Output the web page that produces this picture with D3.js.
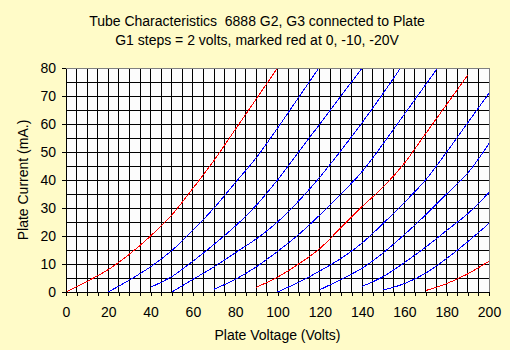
<!DOCTYPE html>
<html>
<head>
<meta charset="utf-8">
<script src="https://cdn.jsdelivr.net/npm/d3@7"></script>
<style>
  html, body { margin: 0; padding: 0; background: #FFFBC8; }
  svg { display: block; font-family: "Liberation Sans", Arial, sans-serif; }
</style>
</head>
<body>
<svg id="chart" width="510" height="350"></svg>
<script>
// 6888 plate characteristics, one curve per G1 bias (G2, G3 tied to plate)
const gridVolts  = [0, -2, -4, -6, -8, -10, -12, -14, -16, -18, -20];
const startVolts = [0, 20, 40, 50, 70, 90, 100, 120, 140, 150, 170]; // first plate voltage of each curve
const stepVolts  = 10;                                                // plate voltage step between readings

// Plate current (mA) read every 10 V from each curve's start voltage
const iG0  = [0, 3.8, 8, 13.5, 20, 27.5, 37, 47, 58, 69, 80];
const iG2  = [0, 4.3, 9, 14.8, 22, 30, 39, 48, 58.5, 69.5, 80.5];
const iG4  = [1.7, 5.5, 11, 17, 23.5, 31, 40, 50, 60, 70, 80];
const iG6  = [0, 4.5, 9, 14, 19, 25, 32.5, 41, 50.5, 60.5, 71, 82];
const iG8  = [1, 4.5, 9, 14.5, 20.5, 27.5, 35, 43, 53, 63.5, 74, 84.5];
const iG10 = [1.7, 5.3, 10, 15.5, 23, 30.5, 37.5, 46, 56.5, 67, 77.5];
const iG12 = [0, 3.5, 7.5, 12, 17.5, 24.5, 32, 40, 50, 60.5, 71];
const iG14 = [0.8, 4.5, 8.5, 14, 20.5, 27.5, 35, 42.5, 53];
const iG16 = [2, 5.5, 10.5, 16, 22, 28, 35.5];
const iG18 = [0.7, 3, 6.7, 12, 18, 24.5];
const iG20 = [0.5, 3, 6.5, 11];
const currents = [iG0, iG2, iG4, iG6, iG8, iG10, iG12, iG14, iG16, iG18, iG20];

const xTicks = [0, 20, 40, 60, 80, 100, 120, 140, 160, 180, 200];
const yTicks = [0, 10, 20, 30, 40, 50, 60, 70, 80];
const titleLines = [
  "Tube Characteristics  6888 G2, G3 connected to Plate",
  "G1 steps = 2 volts, marked red at 0, -10, -20V"
];

const W = 510, H = 350;
const plot = { left: 66, right: 489, top: 68, bottom: 292 };

const svg = d3.select("#chart");
const x = d3.scaleLinear().domain([0, 200]).range([plot.left, plot.right]);
const y = d3.scaleLinear().domain([0, 80]).range([plot.bottom, plot.top]);

// page and plot backgrounds
svg.append("rect").attr("width", W).attr("height", H).attr("fill", "#FFFBC8");
svg.append("rect")
  .attr("x", plot.left).attr("y", plot.top)
  .attr("width", plot.right - plot.left).attr("height", plot.bottom - plot.top)
  .attr("fill", "#FCFCFC");

// titles (keep the double space)
svg.append("g").selectAll("text").data(titleLines).join("text")
  .attr("x", 257).attr("y", (d, i) => 26 + i * 18.5)
  .attr("text-anchor", "middle").attr("font-size", 14).attr("fill", "#000")
  .style("white-space", "pre")
  .attr("xml:space", "preserve")
  .text(d => d);

// grid: 5 V by 5 mA
const grid = svg.append("g").attr("stroke", "#000").attr("stroke-width", 1)
  .attr("shape-rendering", "crispEdges");
grid.selectAll("line.v").data(d3.range(0, 201, 5)).join("line")
  .attr("class", "v")
  .attr("x1", d => x(d)).attr("x2", d => x(d))
  .attr("y1", plot.top).attr("y2", plot.bottom);
grid.selectAll("line.h").data(d3.range(0, 81, 5)).join("line")
  .attr("class", "h")
  .attr("x1", plot.left).attr("x2", plot.right)
  .attr("y1", d => y(d)).attr("y2", d => y(d));

// curves, clipped to the plot area, drawn as hard 1px pixel lines
svg.append("clipPath").attr("id", "plotClip").append("rect")
  .attr("x", plot.left).attr("y", plot.top)
  .attr("width", plot.right - plot.left).attr("height", plot.bottom - plot.top);

const line = d3.line().x(d => x(d[0])).y(d => y(d[1])).curve(d3.curveMonotoneX);
const series = gridVolts.map((g, k) => ({
  g,
  pts: currents[k].map((c, j) => [startVolts[k] + j * stepVolts, c])
}));
svg.append("g").attr("clip-path", "url(#plotClip)")
  .selectAll("path").data(series).join("path")
  .attr("d", d => line(d.pts))
  .attr("fill", "none")
  .attr("stroke", d => d.g % 10 === 0 ? "#FF0000" : "#0000FF")
  .attr("stroke-width", 1)
  .attr("shape-rendering", "crispEdges");

// grey frame on top and right
svg.append("path")
  .attr("d", `M${plot.left},${plot.top}H${plot.right}V${plot.bottom}`)
  .attr("fill", "none").attr("stroke", "#808080").attr("stroke-width", 1)
  .attr("shape-rendering", "crispEdges");

// axes
const xAxis = d3.axisBottom(x)
  .tickValues(d3.range(0, 201, 5))
  .tickFormat(d => xTicks.includes(d) ? d : "")
  .tickSize(4).tickSizeOuter(0).tickPadding(11);
const gx = svg.append("g").attr("transform", `translate(0,${plot.bottom})`).call(xAxis);

const yAxis = d3.axisLeft(y)
  .tickValues(yTicks)
  .tickSize(4).tickSizeOuter(0).tickPadding(6);
const gy = svg.append("g").attr("transform", `translate(${plot.left},0)`).call(yAxis);

[gx, gy].forEach(g => {
  g.attr("font-family", null).attr("font-size", 14);
  g.selectAll("path, line").attr("stroke", "#000").attr("shape-rendering", "crispEdges");
  g.selectAll("text").attr("fill", "#000");
});

// axis titles
svg.append("text")
  .attr("x", (plot.left + plot.right) / 2).attr("y", 340)
  .attr("text-anchor", "middle").attr("font-size", 14).attr("fill", "#000")
  .text("Plate Voltage (Volts)");
svg.append("text")
  .attr("transform", `translate(28,${(plot.top + plot.bottom) / 2}) rotate(-90)`)
  .attr("text-anchor", "middle").attr("font-size", 14).attr("fill", "#000")
  .text("Plate Current (mA.)");
</script>
</body>
</html>
